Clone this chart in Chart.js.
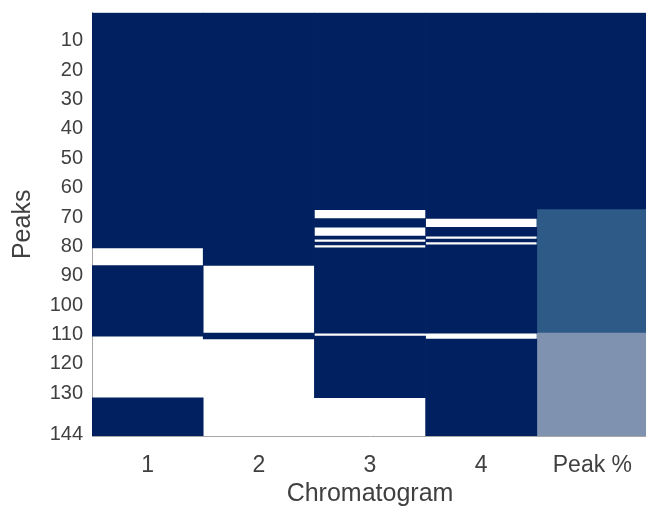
<!DOCTYPE html>
<html>
<head>
<meta charset="utf-8">
<script src="https://cdn.jsdelivr.net/npm/chart.js@4/dist/chart.umd.min.js"></script>
<style>
  html, body { margin: 0; padding: 0; background: #ffffff; overflow: hidden; }
  #wrap { width: 646px; height: 506px; overflow: hidden; }
  canvas { display: block; }
</style>
</head>
<body>
<div id="wrap"><canvas id="chart" width="648" height="509"></canvas></div>
<script>
// Peak presence across four chromatograms, plus the share of chromatograms holding each peak.
const peakCount = 144;
const columnLabels = ['1', '2', '3', '4', 'Peak %'];
const yTickValues = [10, 20, 30, 40, 50, 60, 70, 80, 90, 100, 110, 120, 130, 144];

// Peaks (inclusive ranges) NOT detected in each chromatogram
const missingIn1 = [[81, 86], [111, 131]];
const missingIn2 = [[87, 109], [112, 144]];
const missingIn3 = [[68, 70], [74, 76], [78, 78], [80, 80], [110, 110], [132, 144]];
const missingIn4 = [[71, 73], [77, 77], [79, 79], [110, 111]];

const presentColor = '#002060';
const percentColors = { 100: '#002060', 75: '#2E5A87', 50: '#7F93B0', 25: '#BFC8D7' };

const missingLists = [missingIn1, missingIn2, missingIn3, missingIn4];

function isMissing(list, peak) {
  return list.some(([a, b]) => peak >= a && peak <= b);
}

// Turn a per-peak sequence of keys into contiguous runs
function runs(keyOf) {
  const out = [];
  let start = 1, cur = keyOf(1);
  for (let p = 2; p <= peakCount + 1; p++) {
    const k = p <= peakCount ? keyOf(p) : undefined;
    if (k !== cur) {
      out.push({ key: cur, from: start, to: p - 1 });
      start = p; cur = k;
    }
  }
  return out;
}

// Detected ranges for chromatograms 1-4
const presentBars = [];
missingLists.forEach((list, ci) => {
  runs(p => !isMissing(list, p)).forEach(r => {
    if (r.key) presentBars.push({ x: columnLabels[ci], y: [r.from - 0.5, r.to + 0.5] });
  });
});

// Peak % column: fraction of chromatograms containing each peak
function peakPercent(p) {
  const n = missingLists.filter(list => !isMissing(list, p)).length;
  return Math.round(n / missingLists.length * 100);
}
const percentBars = runs(peakPercent).map(r => ({
  x: columnLabels[4], y: [r.from - 0.5, r.to + 0.5], pct: r.key
}));

const textColor = '#404040';
const fontFamily = "'Liberation Sans', Arial, sans-serif";

new Chart(document.getElementById('chart'), {
  type: 'bar',
  data: {
    labels: columnLabels,
    datasets: [
      {
        label: 'Detected',
        data: presentBars,
        backgroundColor: presentColor,
        borderWidth: 0
      },
      {
        label: 'Peak %',
        data: percentBars,
        backgroundColor: ctx => percentColors[ctx.raw ? ctx.raw.pct : 100],
        borderWidth: 0
      }
    ]
  },
  options: {
    responsive: false,
    animation: false,
    events: [],
    grouped: false,
    barPercentage: 1,
    categoryPercentage: 1,
    layout: { padding: { top: 12.7, right: 0, bottom: 0, left: 0 } },
    plugins: {
      legend: { display: false },
      tooltip: { enabled: false }
    },
    scales: {
      x: {
        type: 'category',
        grid: { display: false, drawTicks: false },
        border: { display: true, color: '#a6a6a6', width: 1 },
        ticks: {
          color: textColor,
          font: { family: fontFamily, size: 23 },
          padding: 16,
          maxRotation: 0
        },
        title: {
          display: true,
          text: 'Chromatogram',
          color: textColor,
          font: { family: fontFamily, size: 25 },
          padding: { top: 0, bottom: 0 }
        },
        afterFit: s => { s.height = 73; s.paddingLeft = 0; s.paddingRight = 0; }
      },
      y: {
        type: 'linear',
        reverse: true,
        min: 0.5,
        max: peakCount + 0.5,
        grid: { display: false, drawTicks: false },
        border: { display: true, color: '#a6a6a6', width: 1 },
        ticks: {
          color: textColor,
          font: { family: fontFamily, size: 20 },
          padding: 9,
          autoSkip: false
        },
        afterBuildTicks: s => { s.ticks = yTickValues.map(v => ({ value: v })); },
        title: {
          display: true,
          text: 'Peaks',
          color: textColor,
          font: { family: fontFamily, size: 25 },
          padding: { top: 8, bottom: 0 }
        },
        afterFit: s => { s.width = 92; s.paddingTop = 0; s.paddingBottom = 0; }
      }
    }
  }
});
</script>
</body>
</html>
